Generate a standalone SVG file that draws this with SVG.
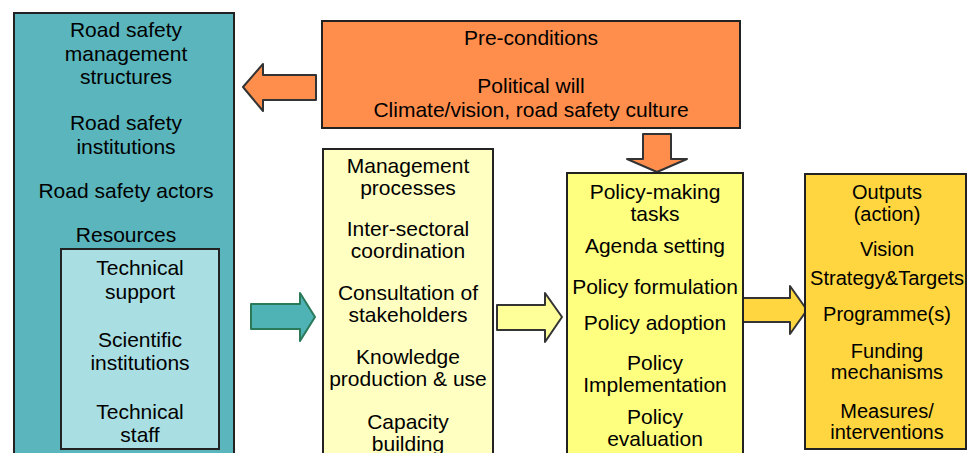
<svg xmlns="http://www.w3.org/2000/svg" width="976" height="453" viewBox="0 0 976 453">
<style>
text{font-family:"Liberation Sans",Arial,sans-serif;font-size:21px;fill:#000;text-anchor:middle;dominant-baseline:central}
.box{stroke:#222;stroke-width:2}
.s{font-size:20px}
</style>
<rect width="976" height="453" fill="#fff"/>
<g id="connectors">
<path d="M316,75 L263,75 L263,64 L243,87 L263,111 L263,100 L316,100 Z" fill="#FF8E4C" stroke="#333" stroke-width="2" stroke-linejoin="round"/>
<path d="M643,134 L671,134 L671,159 L687,159 L657,172 L627,159 L643,159 Z" fill="#FF8E4C" stroke="#333" stroke-width="2" stroke-linejoin="round"/>
<path d="M251,304 L300,304 L300,293 L315,317 L300,341 L300,329 L251,329 Z" fill="#4FB3B5" stroke="#2A7A5A" stroke-width="2" stroke-linejoin="round"/>
<path d="M497,305 L545,305 L545,293 L562,317 L545,342 L545,330 L497,330 Z" fill="#FFFF9A" stroke="#333" stroke-width="2" stroke-linejoin="round"/>
<path d="M743,298 L790,298 L790,286 L807,310 L790,334 L790,322 L743,322 Z" fill="#FFD63F" stroke="#333" stroke-width="2" stroke-linejoin="round"/>
</g>
<g id="left">
<rect class="box" x="14" y="13" width="220" height="450" fill="#5BB5BC"/>
<text x="126" y="29">Road safety</text>
<text x="126" y="53">management</text>
<text x="126" y="76">structures</text>
<text x="126" y="122">Road safety</text>
<text x="126" y="146">institutions</text>
<text x="126" y="190">Road safety actors</text>
<text x="126" y="234">Resources</text>
</g>
<g id="resources">
<rect class="box" x="61" y="249" width="158" height="200" fill="#A9DFE2"/>
<text x="140" y="267">Technical</text>
<text x="140" y="291">support</text>
<text x="140" y="339">Scientific</text>
<text x="140" y="362">institutions</text>
<text x="140" y="411">Technical</text>
<text x="140" y="434">staff</text>
</g>
<g id="preconditions">
<rect class="box" x="322" y="21" width="418" height="107" fill="#FF8E4C"/>
<text x="531" y="37">Pre-conditions</text>
<text x="531" y="85">Political will</text>
<text x="531" y="109">Climate/vision, road safety culture</text>
</g>
<g id="management">
<rect class="box" x="323" y="149" width="170" height="320" fill="#FFFFC2"/>
<text x="408" y="165">Management</text>
<text x="408" y="187">processes</text>
<text x="408" y="228">Inter-sectoral</text>
<text x="408" y="250">coordination</text>
<text x="408" y="292">Consultation of</text>
<text x="408" y="314">stakeholders</text>
<text x="408" y="356">Knowledge</text>
<text x="408" y="378">production &amp; use</text>
<text x="408" y="421">Capacity</text>
<text x="408" y="443">building</text>
</g>
<g id="policy">
<rect class="box" x="567" y="173" width="176" height="300" fill="#FFFF7F"/>
<text x="655" y="191">Policy-making</text>
<text x="655" y="213">tasks</text>
<text x="655" y="245">Agenda setting</text>
<text x="655" y="286">Policy formulation</text>
<text x="655" y="322">Policy adoption</text>
<text x="655" y="362">Policy</text>
<text x="655" y="384">Implementation</text>
<text x="655" y="416">Policy</text>
<text x="655" y="438">evaluation</text>
</g>
<g id="outputs">
<rect class="box" x="805" y="174" width="161" height="275" fill="#FFD63F"/>
<text class="s" x="887" y="192">Outputs</text>
<text class="s" x="887" y="214">(action)</text>
<text class="s" x="887" y="249">Vision</text>
<text class="s" x="887" y="278" textLength="154" lengthAdjust="spacingAndGlyphs">Strategy&amp;Targets</text>
<text class="s" x="887" y="314">Programme(s)</text>
<text class="s" x="887" y="351">Funding</text>
<text class="s" x="887" y="372">mechanisms</text>
<text class="s" x="887" y="411">Measures/</text>
<text class="s" x="887" y="432">interventions</text>
</g>
</svg>
